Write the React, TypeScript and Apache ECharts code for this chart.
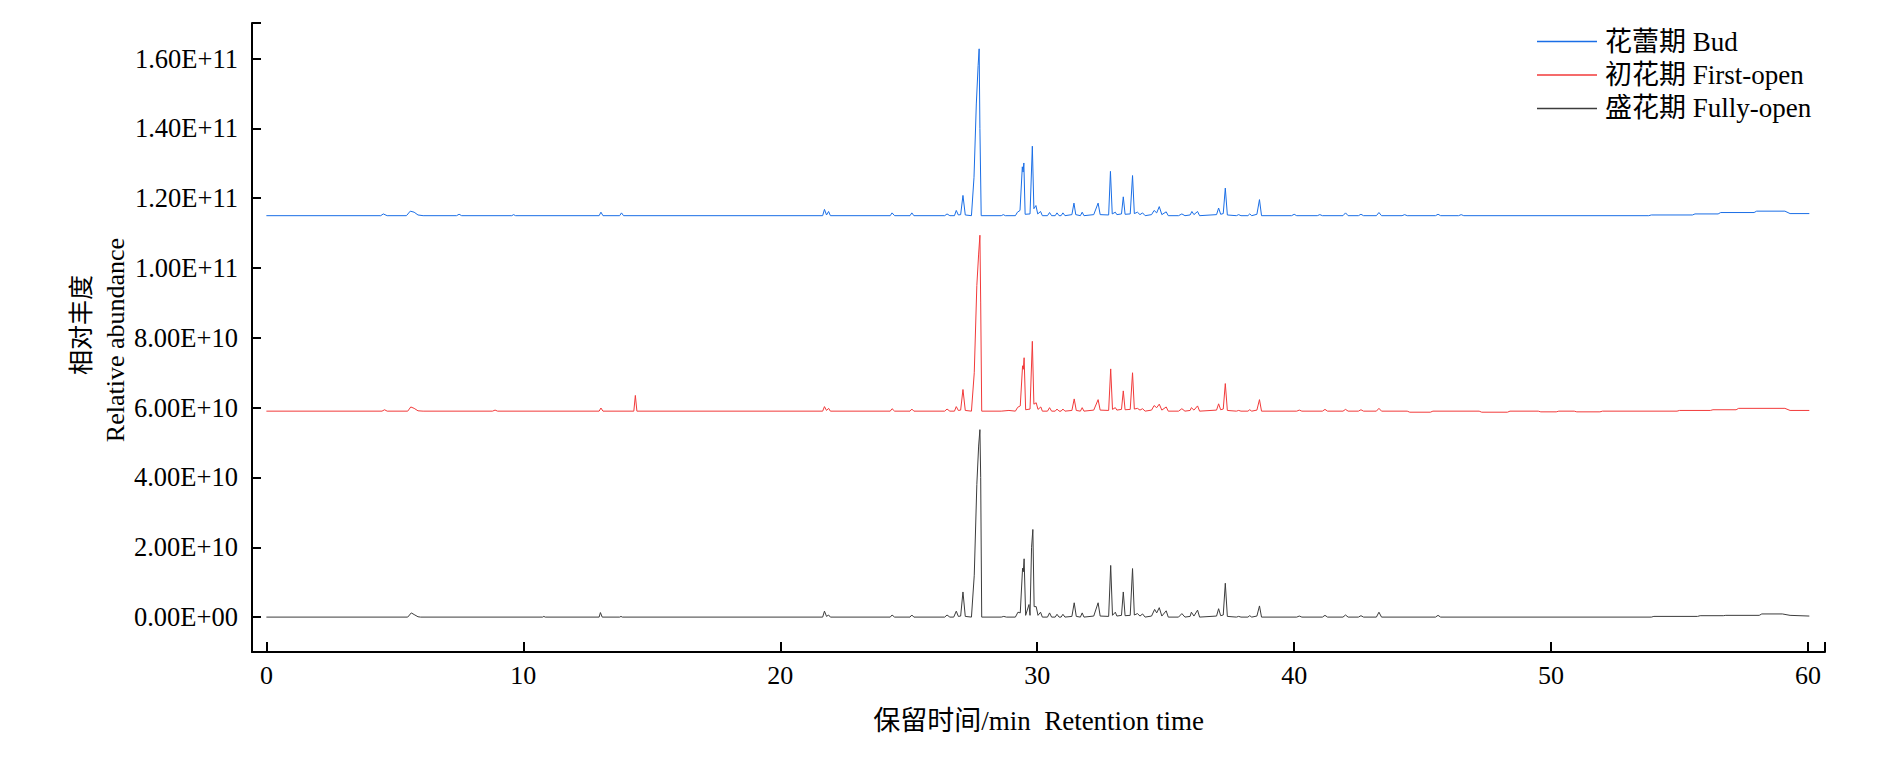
import React, { useEffect, useRef } from "react";
import * as echarts from "echarts";

// Values are in units of 1E9 (relative abundance), x in minutes
const seriesNames = ["花蕾期 Bud", "初花期 First-open", "盛花期 Fully-open"];
const seriesColors = ["#1a6ee6", "#f23a3a", "#3c3c3c"];

const budPoints: [number, number][] = [
  [0, 115], [4.45, 115], [4.55, 115.5], [4.7, 115], [5.45, 115], [5.6, 116.3], [5.75, 116.0], [5.9, 115.2], [6.1, 115],
  [7.4, 115], [7.5, 115.4], [7.6, 115], [9.55, 115], [9.62, 115.3], [9.7, 115], [12.95, 115], [13.02, 116.0], [13.1, 115],
  [13.75, 115], [13.82, 115.8], [13.9, 115], [21.65, 115], [21.72, 116.8], [21.8, 115.2], [21.88, 116.2], [21.95, 115],
  [24.28, 115], [24.35, 115.8], [24.45, 115], [25.05, 115], [25.12, 115.8], [25.2, 115], [26.4, 115], [26.49, 115.5], [26.6, 115],
  [26.78, 115], [26.85, 116.5], [26.93, 115.2], [27.02, 115.3], [27.11, 120.8], [27.2, 115.2], [27.44, 115], [27.54, 126],
  [27.63, 147], [27.7, 158], [27.74, 162.8], [27.77, 140], [27.82, 115], [28.6, 115], [28.68, 115.3], [28.76, 115],
  [29.15, 115], [29.23, 116], [29.33, 116.5], [29.42, 129], [29.45, 127.5], [29.48, 130.1], [29.53, 115.4], [29.72, 115.5],
  [29.81, 134.9], [29.87, 117], [29.95, 117.9], [30.02, 115.5], [30.13, 116.2], [30.2, 115], [30.4, 115], [30.48, 115.9],
  [30.56, 115], [30.7, 115], [30.77, 115.8], [30.85, 115], [30.93, 115], [31.0, 115.8], [31.08, 115], [31.35, 115.3],
  [31.43, 118.6], [31.5, 115.3], [31.68, 115], [31.75, 116], [31.82, 115], [32.2, 115.3], [32.37, 118.6], [32.45, 115.3],
  [32.78, 115.2], [32.85, 127.7], [32.92, 115.5], [33.04, 116], [33.1, 115.3], [33.28, 115.5], [33.35, 120.4], [33.42, 115.4],
  [33.62, 115.5], [33.71, 126.5], [33.78, 115.6], [33.9, 116], [34.0, 115.3], [34.1, 115.8], [34.2, 115], [34.45, 115.3],
  [34.55, 116.5], [34.65, 115.8], [34.75, 117.6], [34.85, 115.3], [35.02, 116.1], [35.1, 115], [35.5, 115], [35.63, 115.5],
  [35.75, 115], [35.95, 115.2], [36.02, 116.2], [36.1, 115.3], [36.24, 116.2], [36.32, 115], [36.98, 115.3], [37.06, 117.2],
  [37.14, 115.4], [37.24, 115.6], [37.32, 122.9], [37.4, 115.2], [37.75, 115], [37.84, 115.3], [37.93, 115], [38.2, 115],
  [38.27, 115.5], [38.35, 115], [38.55, 115.4], [38.65, 119.6], [38.73, 115],
  [39.9, 115], [40.0, 115.4], [40.1, 115], [40.9, 115], [41.0, 115.3], [41.1, 115], [41.9, 115], [42.0, 115.8], [42.1, 115],
  [42.5, 115], [42.6, 115.4], [42.7, 115], [43.2, 115], [43.3, 115.9], [43.4, 115], [44.2, 115], [44.3, 115.3], [44.4, 115],
  [45.5, 115], [45.6, 115.4], [45.7, 115], [46.4, 115], [46.5, 115.3], [46.6, 115], [53.8, 115], [53.9, 115.2],
  [55.5, 115.2], [55.6, 115.5], [56.5, 115.5], [56.6, 115.9], [57.9, 115.9], [58.0, 116.3], [59.1, 116.3], [59.3, 115.6],
  [60.05, 115.6],
];

const firstOpenPoints: [number, number][] = [
  [0, 59], [4.5, 59], [4.6, 59.4], [4.7, 59], [5.5, 59], [5.62, 60.2], [5.75, 59.8], [5.9, 59.1], [6.1, 59],
  [8.8, 59], [8.9, 59.3], [9.0, 59], [12.95, 59], [13.02, 59.9], [13.1, 59], [14.3, 59], [14.36, 63.5], [14.42, 59],
  [21.65, 59], [21.72, 60.3], [21.8, 59.2], [21.88, 59.8], [21.95, 59], [24.28, 59], [24.35, 59.7], [24.45, 59],
  [25.05, 59], [25.12, 59.6], [25.2, 59], [26.4, 59], [26.49, 59.6], [26.6, 59], [26.78, 59], [26.85, 60.3], [26.93, 59.2],
  [27.02, 59.3], [27.11, 65.2], [27.2, 59.2], [27.44, 59], [27.55, 70], [27.65, 95], [27.72, 104], [27.77, 109.4],
  [27.8, 90], [27.84, 59], [28.6, 59], [28.9, 59.2], [29.15, 59], [29.24, 60.1], [29.34, 60.5], [29.43, 72], [29.46, 71],
  [29.49, 74.3], [29.55, 59.4], [29.72, 59.6], [29.81, 79.0], [29.87, 61], [29.96, 61.4], [30.03, 59.5], [30.14, 60.2],
  [30.2, 59], [30.4, 59], [30.48, 60.0], [30.56, 59], [30.7, 59], [30.77, 59.6], [30.85, 59], [30.93, 59], [31.0, 59.6],
  [31.08, 59], [31.35, 59.2], [31.44, 62.5], [31.52, 59.2], [31.68, 59], [31.75, 60.0], [31.82, 59], [32.2, 59.3],
  [32.37, 62.3], [32.45, 59.3], [32.78, 59.2], [32.86, 71.1], [32.93, 59.5], [33.04, 60], [33.1, 59.3], [33.28, 59.5],
  [33.35, 64.8], [33.42, 59.4], [33.62, 59.5], [33.71, 70.0], [33.78, 59.6], [33.9, 59.8], [34.0, 59.3], [34.1, 59.7],
  [34.2, 59], [34.45, 59.3], [34.55, 60.6], [34.65, 60.0], [34.75, 61.0], [34.85, 59.3], [35.02, 60.2], [35.1, 59],
  [35.5, 59], [35.63, 59.7], [35.75, 59], [35.95, 59.2], [36.0, 60.0], [36.1, 59.3], [36.24, 60.5], [36.32, 59],
  [36.98, 59.3], [37.06, 61.1], [37.14, 59.4], [37.24, 59.6], [37.32, 66.9], [37.4, 59.2], [37.75, 59], [37.84, 59.2],
  [37.93, 59], [38.2, 59], [38.27, 59.4], [38.35, 59], [38.55, 59.3], [38.65, 62.3], [38.73, 59],
  [40.1, 59], [40.2, 59.3], [40.3, 59], [41.1, 59], [41.2, 59.5], [41.3, 59], [41.9, 59], [42.0, 59.5], [42.1, 59],
  [42.5, 59], [42.6, 59.4], [42.7, 59], [43.2, 59], [43.3, 59.8], [43.4, 59], [44.4, 59], [44.5, 58.7], [45.3, 58.7],
  [45.4, 59], [47.2, 59], [47.3, 58.7], [48.3, 58.7], [48.4, 59], [49.5, 59], [49.6, 58.8], [50.2, 58.8], [50.3, 59],
  [50.9, 59], [51.0, 58.8], [51.9, 58.8], [52.0, 59], [54.9, 59], [55.0, 59.2], [56.2, 59.2], [56.3, 59.4], [57.2, 59.4],
  [57.3, 59.8], [59.1, 59.8], [59.3, 59.2], [60.05, 59.2],
];

const fullyOpenPoints: [number, number][] = [
  [0, 0], [5.5, 0], [5.64, 1.2], [5.78, 0.6], [5.9, 0.1], [6.0, 0], [10.75, 0], [10.8, 0.2], [10.85, 0], [12.95, 0],
  [13.0, 1.3], [13.07, 0], [13.75, 0], [13.8, 0.2], [13.85, 0], [21.65, 0], [21.72, 1.7], [21.8, 0.2], [21.88, 0.6],
  [21.95, 0], [24.28, 0], [24.35, 0.6], [24.45, 0], [25.05, 0], [25.12, 0.6], [25.2, 0], [26.4, 0], [26.49, 0.6], [26.6, 0],
  [26.75, 0], [26.85, 1.7], [26.93, 0.2], [27.02, 0.3], [27.11, 7.2], [27.2, 0.2], [27.44, 0], [27.55, 12], [27.65, 38],
  [27.72, 49], [27.77, 53.7], [27.8, 40], [27.84, 0], [28.6, 0], [28.7, 0.2], [28.8, 0], [29.15, 0], [29.25, 1.4], [29.34, 1.2],
  [29.43, 14], [29.46, 13], [29.49, 16.7], [29.55, 0.5], [29.68, 3.6], [29.72, 0.5], [29.78, 20], [29.83, 25.1], [29.88, 3],
  [29.96, 3.0], [30.03, 0.5], [30.13, 1.4], [30.2, 0], [30.4, 0], [30.48, 1.2], [30.56, 0], [30.7, 0], [30.77, 0.8],
  [30.85, 0], [30.93, 0], [31.0, 0.8], [31.08, 0], [31.35, 0.2], [31.44, 4.1], [31.52, 0.2], [31.68, 0], [31.75, 1.2],
  [31.82, 0], [32.2, 0.3], [32.37, 4.1], [32.45, 0.3], [32.78, 0.2], [32.86, 14.8], [32.93, 0.5], [33.04, 1.4], [33.1, 0.3],
  [33.28, 0.5], [33.35, 7.2], [33.42, 0.4], [33.62, 0.5], [33.71, 13.9], [33.78, 0.6], [33.9, 1.0], [34.0, 0.3], [34.1, 0.9],
  [34.2, 0], [34.45, 0.3], [34.57, 2.2], [34.65, 1.2], [34.75, 2.7], [34.85, 0.3], [35.02, 1.8], [35.1, 0], [35.5, 0],
  [35.63, 1.0], [35.75, 0], [35.95, 0.2], [36.0, 1.4], [36.1, 0.3], [36.24, 2.0], [36.32, 0], [36.98, 0.3], [37.06, 2.4],
  [37.14, 0.4], [37.24, 0.6], [37.32, 9.7], [37.4, 0.2], [37.75, 0], [37.84, 0.2], [37.93, 0], [38.2, 0], [38.27, 0.4],
  [38.35, 0], [38.55, 0.3], [38.65, 3.2], [38.73, 0],
  [40.1, 0], [40.2, 0.3], [40.3, 0], [41.1, 0], [41.2, 0.5], [41.3, 0], [41.9, 0], [42.0, 0.6], [42.1, 0], [42.5, 0],
  [42.6, 0.4], [42.7, 0], [43.2, 0], [43.3, 1.4], [43.4, 0], [45.5, 0], [45.6, 0.5], [45.7, 0], [53.9, 0], [54.0, 0.2],
  [55.7, 0.2], [55.8, 0.4], [56.7, 0.4], [56.8, 0.5], [58.1, 0.5], [58.2, 0.9], [59.0, 0.9], [59.3, 0.5], [60.05, 0.3],
];

const allPoints = [budPoints, firstOpenPoints, fullyOpenPoints];

const xAxisTitle = "保留时间/min  Retention time";
const yAxisTitleCn = "相对丰度";
const yAxisTitleEn = "Relative abundance";

const FONT = "'Liberation Serif', 'Times New Roman', 'Noto Sans CJK SC', serif";
const UNIT = 1e9;

function formatSci(v: number): string {
  if (v === 0) return "0.00E+00";
  const exp = Math.floor(Math.log10(Math.abs(v)) + 1e-9);
  const mant = v / Math.pow(10, exp);
  const e = String(Math.abs(exp)).padStart(2, "0");
  return mant.toFixed(2) + "E" + (exp >= 0 ? "+" : "-") + e;
}

export default function App() {
  const ref = useRef<HTMLDivElement>(null);

  useEffect(() => {
    if (!ref.current) return;
    const chart = echarts.init(ref.current, undefined, { renderer: "svg" });
    const series = allPoints.map((pts, i) => ({
      name: seriesNames[i],
      type: "line",
      data: pts.map(([t, v]) => [t, v * UNIT]),
      symbol: "none",
      showSymbol: false,
      lineStyle: { color: seriesColors[i], width: 1 },
      itemStyle: { color: seriesColors[i] },
      z: 3 - i,
    }));

    chart.setOption({
      animation: false,
      backgroundColor: "#ffffff",
      textStyle: { fontFamily: FONT },
      grid: { left: 252, right: 65, top: 23, bottom: 116, outerBoundsMode: "none" },
      legend: {
        orient: "vertical",
        left: 1537,
        top: 28,
        padding: 0,
        icon: "rect",
        itemWidth: 60,
        itemHeight: 1.5,
        itemGap: 6.5,
        data: seriesNames,
        textStyle: { fontSize: 27, color: "#000", fontFamily: FONT, padding: [0, 0, 0, 3] },
      },
      xAxis: {
        type: "value",
        min: -0.56,
        max: 60.66,
        minInterval: 10,
        maxInterval: 10,
        name: xAxisTitle,
        nameLocation: "middle",
        nameGap: 55,
        nameTextStyle: { fontSize: 27, color: "#000", fontFamily: FONT },
        axisLine: { show: true, onZero: false, lineStyle: { color: "#000", width: 2 } },
        axisTick: { show: true, inside: true, length: 10, lineStyle: { color: "#000", width: 2 } },
        axisLabel: {
          fontSize: 26,
          color: "#000",
          margin: 10,
          fontFamily: FONT,
          showMinLabel: true,
          showMaxLabel: true,
          formatter: (v: number) => (Math.abs(v - Math.round(v / 10) * 10) < 1e-6 ? String(Math.round(v)) : ""),
        },
        splitLine: { show: false },
      },
      yAxis: {
        type: "value",
        min: -1.0e10,
        max: 1.702e11,
        minInterval: 2e10,
        maxInterval: 2e10,
        axisLine: { show: true, onZero: false, lineStyle: { color: "#000", width: 2 } },
        axisTick: { show: true, inside: true, length: 9, lineStyle: { color: "#000", width: 2 } },
        axisLabel: {
          fontSize: 26.5,
          color: "#000",
          margin: 14,
          fontFamily: FONT,
          formatter: (v: number) => {
            const k = v / 2e10;
            if (Math.abs(k - Math.round(k)) > 1e-6 || v < 0 || v > 1.6e11 + 1) return "";
            return formatSci(Math.round(k) * 2e10);
          },
        },
        splitLine: { show: false },
      },
      graphic: [
        {
          type: "text",
          x: 81,
          y: 325,
          rotation: Math.PI / 2,
          style: { text: yAxisTitleCn, font: `25px ${FONT}`, fill: "#000", textAlign: "center", textVerticalAlign: "middle" },
        },
        {
          type: "text",
          x: 115,
          y: 340,
          rotation: Math.PI / 2,
          style: { text: yAxisTitleEn, font: `26px ${FONT}`, fill: "#000", textAlign: "center", textVerticalAlign: "middle" },
        },
      ],
      series,
    });

    return () => chart.dispose();
  }, []);

  return (
    <div
      ref={ref}
      style={{ position: "fixed", left: 0, top: 0, width: 1890, height: 768, background: "#fff" }}
    />
  );
}
